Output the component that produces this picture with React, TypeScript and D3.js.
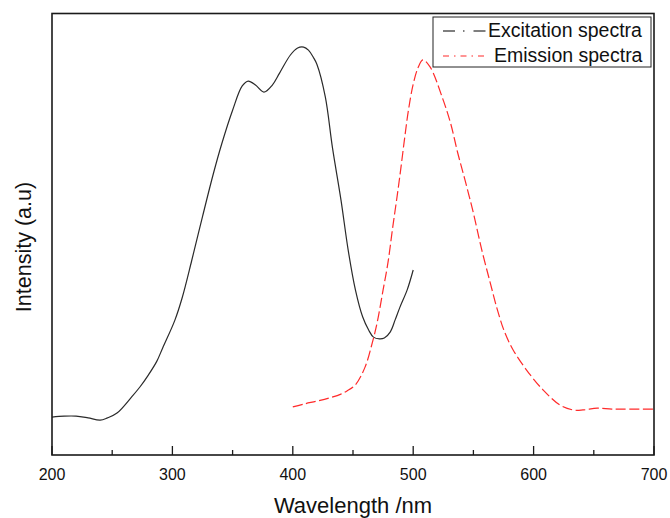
import React from 'react';
import * as d3 from 'd3';

// excitation spectrum, wavelength (nm) and intensity (a.u., 0..1)
const excWave = [200, 210, 220, 230, 240, 246, 254, 266, 273, 280, 287, 292, 302, 308, 316, 325, 334, 341, 350, 358, 363, 369, 376, 383, 389, 398, 404, 409, 413, 417, 420, 427, 433, 440, 446, 452, 458, 463, 467, 472, 476, 481, 485, 489, 495, 500];
const excInt = [0.086, 0.088, 0.088, 0.084, 0.079, 0.084, 0.095, 0.131, 0.154, 0.181, 0.212, 0.243, 0.305, 0.355, 0.44, 0.54, 0.637, 0.705, 0.781, 0.836, 0.847, 0.838, 0.822, 0.838, 0.865, 0.906, 0.922, 0.924, 0.917, 0.901, 0.885, 0.811, 0.695, 0.578, 0.464, 0.374, 0.313, 0.283, 0.267, 0.263, 0.265, 0.279, 0.306, 0.335, 0.374, 0.419];

// emission spectrum
const emWave = [400, 410, 420, 430, 440, 445, 452, 460, 466, 470, 475, 479, 483, 487, 490, 493, 496, 500, 504, 508, 514, 524, 531, 537, 543, 550, 557, 564, 570, 576, 583, 594, 608, 622, 633, 641, 653, 665, 680, 700];
const emInt = [0.109, 0.116, 0.122, 0.129, 0.138, 0.145, 0.159, 0.199, 0.254, 0.299, 0.374, 0.435, 0.516, 0.593, 0.655, 0.72, 0.78, 0.84, 0.877, 0.895, 0.879, 0.811, 0.752, 0.684, 0.623, 0.548, 0.464, 0.39, 0.328, 0.278, 0.238, 0.193, 0.147, 0.113, 0.102, 0.102, 0.106, 0.104, 0.104, 0.104];

const seriesNames = ['Excitation spectra', 'Emission spectra'];
const xTicks = [200, 300, 400, 500, 600, 700];

const W = 670;
const H = 518;
const left = 52;
const right = 654;
const top = 13.5;
const bottom = 455;

const font = 'Arial, "Liberation Sans", sans-serif';

export default function App() {
  const x = d3.scaleLinear().domain([200, 700]).range([left, right]);
  const y = d3.scaleLinear().domain([0, 1]).range([bottom, top]);

  const line = d3
    .line<[number, number]>()
    .x((d) => x(d[0]))
    .y((d) => y(d[1]))
    .curve(d3.curveCatmullRom.alpha(0.5));

  const exc = excWave.map((w, i) => [w, excInt[i]] as [number, number]);
  const em = emWave.map((w, i) => [w, emInt[i]] as [number, number]);

  const minor = d3.range(250, 700, 100);

  return (
    <svg width={W} height={H} style={{ position: 'absolute', left: 0, top: 0 }}>
      <rect x={0} y={0} width={W} height={H} fill="#fff" />
      <path d={line(exc) || ''} fill="none" stroke="#2a2a2a" strokeWidth={1.2} />
      <path d={line(em) || ''} fill="none" stroke="#ff2a2a" strokeWidth={1.2} strokeDasharray="10,3.5" />

      {/* frame */}
      <rect x={left} y={top} width={right - left} height={bottom - top} fill="none" stroke="#1a1a1a" strokeWidth={1.6} />

      {/* bottom axis ticks */}
      {xTicks.map((t) => (
        <g key={t}>
          <line x1={x(t)} x2={x(t)} y1={bottom} y2={bottom - 9} stroke="#1a1a1a" strokeWidth={1.3} />
          <text x={x(t)} y={480} textAnchor="middle" fontFamily={font} fontSize={16} fill="#111">
            {t}
          </text>
        </g>
      ))}
      {minor.map((t) => (
        <line key={t} x1={x(t)} x2={x(t)} y1={bottom} y2={bottom - 5} stroke="#1a1a1a" strokeWidth={1.3} />
      ))}

      <text x={353} y={513} textAnchor="middle" fontFamily={font} fontSize={22} fill="#111">
        Wavelength /nm
      </text>
      <text transform="translate(31,247) rotate(-90)" textAnchor="middle" fontFamily={font} fontSize={21.5} fill="#111">
        Intensity (a.u)
      </text>

      {/* legend */}
      <rect x={433} y={17} width={218} height={50} fill="#fff" stroke="#222" strokeWidth={1} />
      <line x1={443} x2={487} y1={31} y2={31} stroke="#555" strokeWidth={1.3} strokeDasharray="12,8,1.5,9" />
      <text x={488} y={37} fontFamily={font} fontSize={19.5} fill="#111">
        {seriesNames[0]}
      </text>
      <line x1={443} x2={487} y1={56} y2={56} stroke="#ff2a2a" strokeWidth={1.2} strokeDasharray="6,5,1.5,5" />
      <text x={494} y={62} fontFamily={font} fontSize={19.5} fill="#111">
        {seriesNames[1]}
      </text>
    </svg>
  );
}
